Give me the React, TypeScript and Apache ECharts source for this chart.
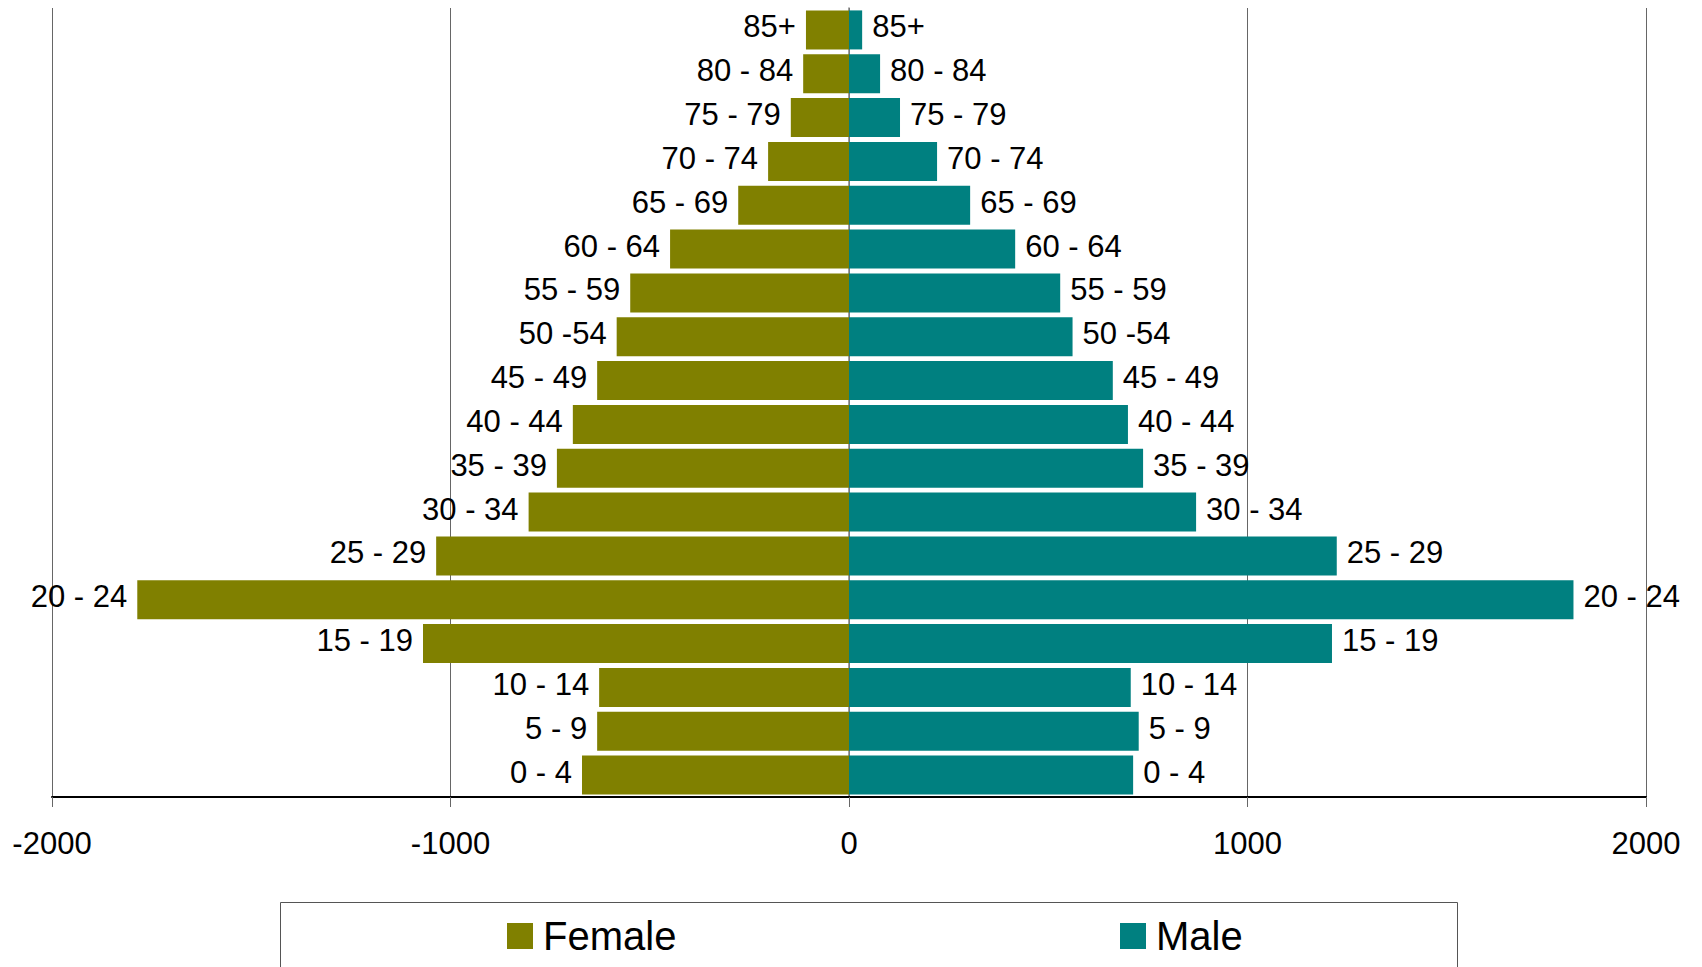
import React, { useEffect, useRef } from "react";
import * as echarts from "echarts";

const categories = ["0 - 4", "5 - 9", "10 - 14", "15 - 19", "20 - 24", "25 - 29", "30 - 34", "35 - 39", "40 - 44", "45 - 49", "50 -54", "55 - 59", "60 - 64", "65 - 69", "70 - 74", "75 - 79", "80 - 84", "85+"];
const female = [670, 632, 627, 1069, 1786, 1036, 804, 733, 693, 632, 583, 549, 449, 278, 203, 146, 115, 108];
const male = [713, 727, 707, 1212, 1818, 1224, 871, 738, 700, 662, 561, 530, 417, 304, 221, 128, 78, 33];
const xTicks = [-2000, -1000, 0, 1000, 2000];

const FONT = "'Liberation Sans', Arial, sans-serif";

export default function App() {
  const ref = useRef<HTMLDivElement>(null);
  useEffect(() => {
    if (!ref.current) return;
    const chart = echarts.init(ref.current, null, { renderer: "svg" });
    chart.setOption({
      animation: false,
      backgroundColor: "#ffffff",
      textStyle: { fontFamily: FONT },
      grid: { left: 52, right: 56, top: 8, bottom: 170, containLabel: false },
      xAxis: {
        type: "value",
        min: xTicks[0],
        max: xTicks[xTicks.length - 1],
        interval: 1000,
        axisLine: { show: true, onZero: false, lineStyle: { color: "#000000", width: 2 } },
        axisTick: { show: true, length: 10, lineStyle: { color: "#666666", width: 1 } },
        axisLabel: {
          color: "#000000",
          fontSize: 31,
          fontFamily: FONT,
          margin: 31,
          formatter: (v: number) => String(v),
        },
        splitLine: { show: true, lineStyle: { color: "#666666", width: 1 } },
      },
      yAxis: {
        type: "category",
        data: categories,
        axisLine: { show: true, onZero: true, lineStyle: { color: "#808080", width: 1.5 } },
        axisTick: { show: false },
        axisLabel: { show: false },
        splitLine: { show: false },
      },
      legend: [
        {
          data: ["Female"],
          left: 507,
          top: 916,
          icon: "rect",
          itemWidth: 26,
          itemHeight: 26,
          itemGap: 10,
          padding: 0,
          textStyle: { fontSize: 40, color: "#000000", fontFamily: FONT, padding: [0, 0, 0, 5] },
          selectedMode: false,
        },
        {
          data: ["Male"],
          left: 1120,
          top: 916,
          icon: "rect",
          itemWidth: 26,
          itemHeight: 26,
          itemGap: 10,
          padding: 0,
          textStyle: { fontSize: 40, color: "#000000", fontFamily: FONT, padding: [0, 0, 0, 5] },
          selectedMode: false,
        },
      ],
      graphic: [
        {
          type: "rect",
          shape: { x: 280.5, y: 902.5, width: 1177, height: 100 },
          style: { fill: "none", stroke: "#555555", lineWidth: 1 },
          silent: true,
        },
      ],
      series: [
        {
          name: "Female",
          type: "bar",
          stack: "pop",
          data: female.map((v) => -v),
          barCategoryGap: "11%",
          itemStyle: { color: "#808000" },
          label: {
            show: true,
            position: "left",
            distance: 10,
            offset: [0, -3],
            formatter: "{b}",
            color: "#000000",
            fontSize: 31,
            fontFamily: FONT,
          },
        },
        {
          name: "Male",
          type: "bar",
          stack: "pop",
          data: male,
          barCategoryGap: "11%",
          itemStyle: { color: "#008080" },
          label: {
            show: true,
            position: "right",
            distance: 10,
            offset: [0, -3],
            formatter: "{b}",
            color: "#000000",
            fontSize: 31,
            fontFamily: FONT,
          },
        },
      ],
    });
    return () => chart.dispose();
  }, []);
  return (
    <div
      ref={ref}
      style={{ position: "fixed", left: 0, top: 0, width: 1702, height: 967, background: "#fff" }}
    />
  );
}
